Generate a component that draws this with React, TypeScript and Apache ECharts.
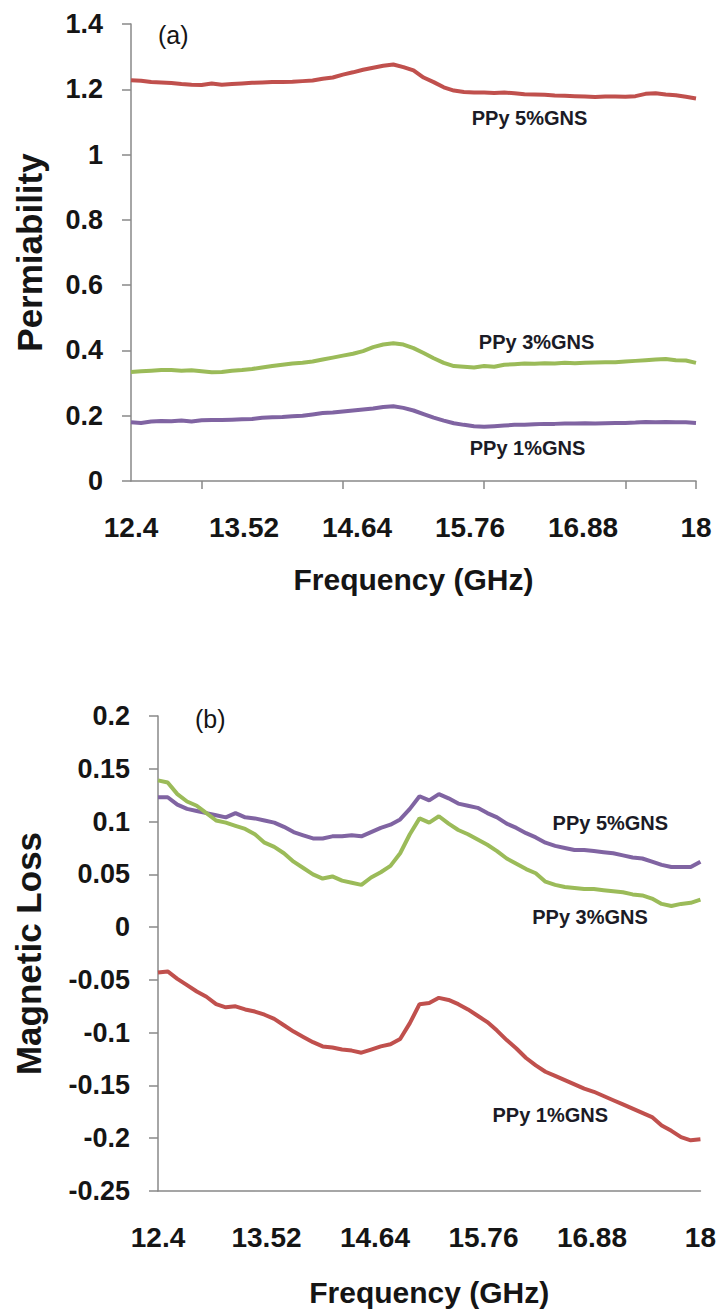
import React, { useEffect, useRef } from "react";
import * as echarts from "echarts";

const freq = [
  12.4, 12.5, 12.6, 12.7, 12.8, 12.9, 13.0, 13.1, 13.2, 13.3, 13.4, 13.5, 13.6, 13.7, 13.8, 13.9,
  14.0, 14.1, 14.2, 14.3, 14.4, 14.5, 14.6, 14.7, 14.8, 14.9, 15.0, 15.1, 15.2, 15.3, 15.4, 15.5,
  15.6, 15.7, 15.8, 15.9, 16.0, 16.1, 16.2, 16.3, 16.4, 16.5, 16.6, 16.7, 16.8, 16.9, 17.0, 17.1,
  17.2, 17.3, 17.4, 17.5, 17.6, 17.7, 17.8, 17.9, 18.0,
];

// (a) Permiability
const perm5 = [
  1.228, 1.226, 1.222, 1.221, 1.219, 1.216, 1.214, 1.213, 1.218, 1.214, 1.216, 1.218, 1.22, 1.221, 1.222, 1.222,
  1.223, 1.225, 1.227, 1.232, 1.236, 1.245, 1.252, 1.26, 1.266, 1.272, 1.276, 1.268, 1.258, 1.236, 1.222, 1.206,
  1.196, 1.192, 1.19, 1.19, 1.189, 1.19, 1.188, 1.185, 1.184, 1.183, 1.181, 1.18, 1.179, 1.178, 1.176, 1.178,
  1.178, 1.177, 1.179, 1.186, 1.188, 1.184, 1.182, 1.177, 1.172,
];
const perm3 = [
  0.334, 0.336, 0.338, 0.34, 0.34, 0.338, 0.339, 0.336, 0.333, 0.334, 0.338, 0.34, 0.343, 0.348, 0.352, 0.356,
  0.36, 0.362, 0.366, 0.372, 0.378, 0.384, 0.39, 0.398, 0.41, 0.418, 0.422, 0.418, 0.407, 0.392, 0.376, 0.362,
  0.352, 0.35, 0.348, 0.352, 0.35, 0.356, 0.358, 0.36, 0.359, 0.361, 0.36, 0.362, 0.361, 0.362, 0.363, 0.364,
  0.364, 0.366, 0.368, 0.37, 0.372, 0.374, 0.37, 0.369, 0.362,
];
const perm1 = [
  0.18, 0.178, 0.182, 0.184, 0.183, 0.185, 0.182, 0.186, 0.187, 0.187, 0.188, 0.189, 0.19, 0.194, 0.195, 0.196,
  0.198, 0.2, 0.204, 0.208, 0.21, 0.213, 0.216, 0.219, 0.222, 0.227, 0.229, 0.224, 0.216, 0.205, 0.194, 0.185,
  0.177, 0.172, 0.168, 0.166, 0.168, 0.17, 0.172, 0.172, 0.174, 0.175, 0.175, 0.176, 0.176, 0.177, 0.176, 0.177,
  0.178, 0.178, 0.179, 0.181, 0.18, 0.181, 0.18, 0.18, 0.178,
];

// (b) Magnetic Loss
const loss5 = [
  0.123, 0.123, 0.116, 0.112, 0.11, 0.108, 0.106, 0.104, 0.108, 0.104, 0.103, 0.101, 0.099, 0.095, 0.09, 0.087,
  0.084, 0.084, 0.086, 0.086, 0.087, 0.086, 0.09, 0.094, 0.097, 0.102, 0.112, 0.124, 0.12, 0.126, 0.122, 0.117,
  0.115, 0.113, 0.108, 0.104, 0.098, 0.094, 0.089, 0.085, 0.08, 0.077, 0.075, 0.073, 0.073, 0.072, 0.071, 0.07,
  0.068, 0.066, 0.065, 0.062, 0.059, 0.057, 0.057, 0.057, 0.062,
];
const loss3 = [
  0.139, 0.137, 0.126, 0.119, 0.115, 0.108, 0.101, 0.099, 0.096, 0.093, 0.088, 0.08, 0.076, 0.07, 0.062, 0.056,
  0.05, 0.046, 0.048, 0.044, 0.042, 0.04, 0.047, 0.052, 0.058, 0.07, 0.088, 0.103, 0.099, 0.105, 0.098, 0.092,
  0.088, 0.083, 0.078, 0.072, 0.065, 0.06, 0.055, 0.051, 0.043, 0.04, 0.038, 0.037, 0.036, 0.036, 0.035, 0.034,
  0.033, 0.031, 0.03, 0.027, 0.022, 0.02, 0.022, 0.023, 0.026,
];
const loss1 = [
  -0.043, -0.042, -0.049, -0.055, -0.061, -0.066, -0.073, -0.076, -0.075, -0.078, -0.08, -0.083, -0.087, -0.093, -0.099, -0.104,
  -0.109, -0.113, -0.114, -0.116, -0.117, -0.119, -0.116, -0.113, -0.111, -0.106, -0.091, -0.073, -0.072, -0.067, -0.069, -0.073,
  -0.078, -0.084, -0.09, -0.098, -0.107, -0.115, -0.124, -0.131, -0.137, -0.141, -0.145, -0.149, -0.153, -0.156, -0.16, -0.164,
  -0.168, -0.172, -0.176, -0.18, -0.188, -0.193, -0.199, -0.202, -0.201,
];

const xLabelValues = [12.4, 13.52, 14.64, 15.76, 16.88, 18];
const xTickValuesTop = [13.1, 14.5, 15.9, 17.3, 18];

const RED = "#C0504D";
const GREEN = "#9BBB59";
const PURPLE = "#8064A2";
const AXIS = "#888888";
const TEXT = "#151515";
const FONT = "'Liberation Sans', Arial, sans-serif";

const pair = (ys: number[]) => freq.map((f, i) => [f, ys[i]]);

const seriesLabel = (name: string, coord: number[]) => ({
  symbol: "rect",
  symbolSize: 1,
  itemStyle: { color: "rgba(0,0,0,0)" },
  silent: true,
  label: {
    show: true,
    position: "inside",
    formatter: name,
    fontFamily: FONT,
    fontWeight: "bold",
    fontSize: 20,
    color: "#1b1b26",
  },
  data: [{ coord }],
});

export default function App() {
  const ref = useRef<HTMLDivElement>(null);
  useEffect(() => {
    if (!ref.current) return;
    const chart = echarts.init(ref.current, undefined, { renderer: "svg" });
    const xAxisBase = (gridIndex: number, ticks: boolean, nameGap: number) => ({
      type: "value",
      gridIndex,
      min: 12.4,
      max: 18,
      name: "Frequency (GHz)",
      nameLocation: "middle",
      nameGap,
      nameTextStyle: { fontFamily: FONT, fontWeight: "bold", fontSize: 30, color: TEXT },
      axisLine: { show: true, onZero: false, lineStyle: { color: AXIS, width: 1.5 } },
      axisTick: ticks
        ? { show: true, customValues: xTickValuesTop, length: 8, lineStyle: { color: AXIS, width: 1.5 } }
        : { show: false },
      axisLabel: {
        customValues: xLabelValues,
        margin: 32,
        fontFamily: FONT,
        fontWeight: "bold",
        fontSize: 28,
        color: TEXT,
        formatter: (v: number) => String(+v.toFixed(2)),
      },
      splitLine: { show: false },
    });
    const yAxisBase = (gridIndex: number, name: string, min: number, max: number, interval: number, nameGap: number) => ({
      type: "value",
      gridIndex,
      min,
      max,
      interval,
      name,
      nameLocation: "middle",
      nameGap,
      nameRotate: 90,
      nameTextStyle: { fontFamily: FONT, fontWeight: "bold", fontSize: 35, color: TEXT },
      axisLine: { show: true, lineStyle: { color: AXIS, width: 1.5 } },
      axisTick: { show: true, length: 9, lineStyle: { color: AXIS, width: 1.5 } },
      axisLabel: {
        margin: 28,
        fontFamily: FONT,
        fontWeight: "bold",
        fontSize: 27,
        color: TEXT,
        formatter: (v: number) => String(+v.toFixed(2)),
      },
      splitLine: { show: false },
    });
    const line = (name: string, data: number[], color: string, idx: number, mp: any) => ({
      type: "line",
      name,
      xAxisIndex: idx,
      yAxisIndex: idx,
      data: pair(data),
      showSymbol: false,
      symbol: "none",
      lineStyle: { color, width: 4 },
      itemStyle: { color },
      markPoint: mp,
    });
    chart.setOption({
      animation: false,
      backgroundColor: "#ffffff",
      title: [
        { text: "(a)", left: 153, top: 17, textStyle: { fontFamily: FONT, fontWeight: "normal", fontSize: 25, color: TEXT } },
        { text: "(b)", left: 190, top: 701, textStyle: { fontFamily: FONT, fontWeight: "normal", fontSize: 25, color: TEXT } },
      ],
      grid: [
        { left: 131, right: 23, top: 24, height: 457 },
        { left: 158, right: 16, top: 716, height: 475 },
      ],
      xAxis: [xAxisBase(0, true, 83), xAxisBase(1, false, 86)],
      yAxis: [
        yAxisBase(0, "Permiability", 0, 1.4, 0.2, 84),
        yAxisBase(1, "Magnetic Loss", -0.25, 0.2, 0.05, 112),
      ],
      series: [
        line("PPy 5%GNS", perm5, RED, 0, seriesLabel("PPy 5%GNS", [16.35, 1.112])),
        line("PPy 3%GNS", perm3, GREEN, 0, seriesLabel("PPy 3%GNS", [16.42, 0.426])),
        line("PPy 1%GNS", perm1, PURPLE, 0, seriesLabel("PPy 1%GNS", [16.33, 0.101])),
        line("PPy 5%GNS ", loss5, PURPLE, 1, seriesLabel("PPy 5%GNS", [17.07, 0.0986])),
        line("PPy 3%GNS ", loss3, GREEN, 1, seriesLabel("PPy 3%GNS", [16.86, 0.0096])),
        line("PPy 1%GNS ", loss1, RED, 1, seriesLabel("PPy 1%GNS", [16.45, -0.178])),
      ],
    });
    return () => chart.dispose();
  }, []);
  return (
    <div
      ref={ref}
      style={{ position: "absolute", left: 0, top: 0, width: 719, height: 1309, background: "#fff" }}
    />
  );
}
